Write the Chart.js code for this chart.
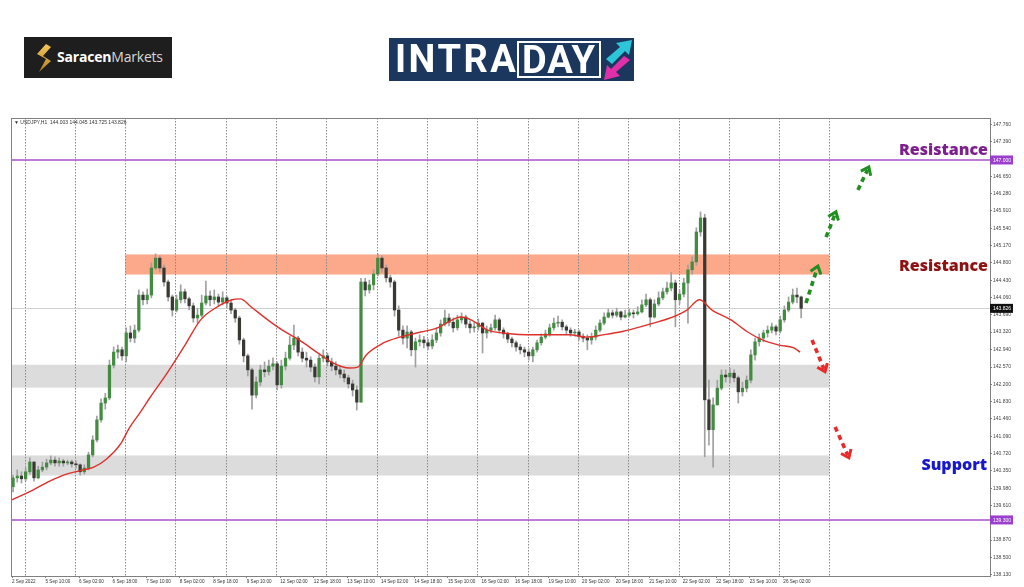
<!DOCTYPE html>
<html>
<head>
<meta charset="utf-8">
<script src="https://cdn.jsdelivr.net/npm/chart.js@4.4.1/dist/chart.umd.min.js"></script>
<style>
  html, body { margin: 0; padding: 0; background: #fff; }
  #wrap { position: relative; width: 1024px; height: 587px; overflow: hidden; }
  #c { position: absolute; left: 0; top: 0; }
  .saracen { position: absolute; left: 24px; top: 37px; width: 148px; height: 41px; background: #1e1e1e; }
  .saracen svg { position: absolute; left: 11px; top: 7px; }
  .saracen .name { position: absolute; left: 33px; top: 10px; font: 14px 'Open Sans', sans-serif; color: #d8d8d8; white-space: nowrap; letter-spacing: -0.2px; }
  .saracen .name b { color: #fff; font-weight: 700; }
  .intraday { position: absolute; left: 389px; top: 38px; width: 245px; height: 43px; background: #1c375e; }
  .intraday .intra { position: absolute; left: 6px; top: 1px; font: 700 38px 'Roboto', sans-serif; color: #fff; letter-spacing: 2.5px; line-height: 41px; }
  .intraday .day { position: absolute; left: 128px; top: 3px; width: 80px; height: 33px; border: 2.5px solid #fff; font: 700 38px 'Roboto', sans-serif; color: #fff; line-height: 35px; text-align: center; letter-spacing: 1px; }
  .intraday svg { position: absolute; left: 214px; top: 2px; }
</style>
</head>
<body>
<div id="wrap">
  <canvas id="c" width="1024" height="587"></canvas>
  <div class="saracen">
    <svg width="18" height="28" viewBox="0 0 18 28">
      <defs><linearGradient id="gold" x1="0" y1="0" x2="0" y2="1"><stop offset="0" stop-color="#f3c75a"/><stop offset="1" stop-color="#b3801f"/></linearGradient></defs>
      <polygon points="11,0 2,10 11,15 4,28 16,17 8,12 16,3" fill="url(#gold)"/>
    </svg>
    <div class="name"><b>Saracen</b>Markets</div>
  </div>
  <div class="intraday">
    <div class="intra">INTRA</div>
    <div class="day">DAY</div>
    <svg width="30" height="40" viewBox="0 0 30 40">
      <polygon points="3,19 17,7 13,3 29,0 26,15 22,11 9,24" fill="#2cc6d8"/>
      <polygon points="27,20 13,32 17,36 1,40 4,25 8,29 21,16" fill="#e02fa8"/>
    </svg>
  </div>
</div>
<script>
// USDJPY H1 (one candle per 2 hours)
const xLabels = ['2 Sep 2022','5 Sep 10:00','6 Sep 02:00','6 Sep 18:00','7 Sep 10:00','8 Sep 02:00','8 Sep 18:00','9 Sep 10:00','12 Sep 02:00','12 Sep 18:00','13 Sep 10:00','14 Sep 02:00','14 Sep 18:00','15 Sep 10:00','16 Sep 02:00','16 Sep 18:00','19 Sep 10:00','20 Sep 02:00','20 Sep 18:00','21 Sep 10:00','22 Sep 02:00','22 Sep 18:00','23 Sep 10:00','26 Sep 02:00'];
const yTicks = [147.760,147.390,147.020,146.650,146.280,145.910,145.540,145.170,144.800,144.430,144.060,143.690,143.320,142.940,142.570,142.200,141.830,141.460,141.090,140.720,140.350,139.980,139.610,139.240,138.870,138.500,138.130];

const firstOpen = 140.01;
const closes = [
  140.20,140.24,140.18,140.33,140.54,140.20,140.37,140.43,140.52,140.58,
  140.52,140.56,140.52,140.54,140.50,140.48,140.33,140.41,140.69,141.01,
  141.44,141.80,141.91,142.61,142.89,142.94,142.81,143.30,143.19,143.36,
  144.11,144.01,144.11,144.69,144.90,144.69,144.39,144.07,143.79,144.01,
  144.18,144.03,143.88,143.62,143.68,143.94,144.09,144.01,144.07,143.96,
  144.05,143.94,143.79,143.62,143.15,142.81,142.51,141.97,142.25,142.51,
  142.47,142.59,142.64,142.19,142.59,142.76,143.04,143.19,142.89,142.76,
  142.72,142.57,142.36,142.76,142.81,142.68,142.59,142.51,142.42,142.34,
  142.21,142.08,141.82,144.39,144.22,144.33,144.56,144.90,144.69,144.48,
  144.39,143.79,143.36,143.19,143.32,142.94,143.11,143.15,143.09,143.02,
  143.15,143.30,143.49,143.62,143.53,143.41,143.58,143.64,143.49,143.41,
  143.43,143.51,143.30,143.36,143.41,143.58,143.36,143.28,143.17,143.09,
  143.00,142.94,142.89,142.81,142.94,143.09,143.21,143.28,143.41,143.51,
  143.53,143.43,143.36,143.30,143.32,143.23,143.19,143.15,143.21,143.36,
  143.51,143.64,143.73,143.68,143.75,143.64,143.68,143.73,143.71,143.75,
  143.90,144.01,143.64,143.92,144.05,144.18,144.26,144.37,144.01,144.13,
  144.37,144.65,144.82,145.46,145.76,141.87,141.23,141.76,142.12,142.40,
  142.36,142.44,142.34,142.04,142.12,142.29,142.83,143.11,143.19,143.30,
  143.36,143.43,143.34,143.58,143.79,143.96,144.11,144.07,143.826
];
const highs = [
  140.26,140.37,140.33,140.41,140.63,140.54,140.45,140.54,140.60,140.67,
  140.65,140.63,140.60,140.58,140.58,140.56,140.50,140.48,140.75,141.10,
  141.52,141.89,142.01,142.72,143.00,143.04,143.00,143.41,143.45,143.47,
  144.22,144.18,144.24,144.80,144.99,144.95,144.75,144.43,144.11,144.11,
  144.33,144.24,144.07,143.94,143.83,144.11,144.41,144.20,144.22,144.13,
  144.18,144.09,144.01,143.83,143.66,143.19,142.85,142.55,142.36,142.61,
  142.68,142.72,142.77,142.68,142.72,142.89,143.23,143.47,143.23,142.98,
  142.89,142.79,142.64,142.83,142.94,142.87,142.76,142.68,142.59,142.51,
  142.40,142.29,142.17,144.47,144.47,144.43,144.65,144.99,144.95,144.75,
  144.54,144.43,143.88,143.45,143.45,143.36,143.19,143.26,143.23,143.17,
  143.26,143.41,143.58,143.79,143.71,143.62,143.68,143.73,143.68,143.56,
  143.53,143.60,143.53,143.45,143.49,143.68,143.62,143.41,143.32,143.21,
  143.13,143.06,143.00,142.96,143.00,143.15,143.28,143.36,143.49,143.62,
  143.66,143.58,143.47,143.41,143.38,143.36,143.28,143.26,143.30,143.45,
  143.58,143.73,143.81,143.79,143.83,143.77,143.79,143.81,143.79,143.86,
  144.01,144.13,144.05,144.01,144.18,144.26,144.39,144.60,144.43,144.22,
  144.47,144.75,144.93,145.55,145.89,145.84,142.29,141.91,142.29,142.51,
  142.51,142.55,142.51,142.38,142.25,142.38,142.94,143.19,143.28,143.36,
  143.45,143.51,143.47,143.66,143.88,144.07,144.24,144.26,144.09
];
const lows = [
  139.90,140.11,140.09,140.13,140.28,140.13,140.18,140.33,140.37,140.48,
  140.45,140.45,140.45,140.48,140.43,140.41,140.26,140.28,140.37,140.65,
  140.97,141.39,141.67,141.87,142.55,142.76,142.72,142.68,143.11,143.09,
  143.32,143.90,143.92,144.05,144.65,144.60,144.30,143.98,143.66,143.75,
  143.94,143.94,143.79,143.53,143.51,143.64,143.90,143.88,143.92,143.88,
  143.90,143.83,143.71,143.53,143.06,142.68,142.38,141.67,141.91,142.17,
  142.36,142.40,142.51,142.08,142.12,142.51,142.72,142.94,142.81,142.68,
  142.57,142.47,142.25,142.21,142.68,142.59,142.49,142.40,142.34,142.25,
  142.12,141.95,141.65,141.82,144.09,144.15,144.22,144.52,144.60,144.39,
  144.28,143.66,143.23,143.06,142.98,142.81,142.57,143.02,142.98,142.94,
  142.96,143.09,143.23,143.45,143.45,143.32,143.36,143.51,143.41,143.30,
  143.32,143.36,142.87,143.19,143.30,143.36,143.30,143.19,143.09,143.00,
  142.91,142.85,142.79,142.72,142.68,142.89,143.04,143.17,143.23,143.36,
  143.43,143.36,143.26,143.23,143.23,143.15,143.11,142.94,143.06,143.15,
  143.32,143.47,143.62,143.62,143.64,143.58,143.62,143.64,143.62,143.68,
  143.73,143.86,143.43,143.62,143.88,144.01,144.13,144.20,143.43,143.92,
  144.07,143.51,144.56,144.75,145.37,140.65,140.90,140.43,141.76,142.08,
  142.25,142.23,142.25,141.80,141.95,142.04,142.23,142.72,143.02,143.11,
  143.21,143.30,143.26,143.30,143.53,143.75,143.92,143.94,143.62
];
// red moving average, traced at a few hour positions
const maHours = [0,10,18,26,32,39,45,52,56,61,66,74,82,90,98,105,109,114,122,129,137,146,153,161,165,169,177,185,195,203,210,214,219,227,234,250,266,274,282,290,298,306,314,322,328,334,343,351,358,366,373,376];
const maValues = [139.73,139.94,140.13,140.28,140.35,140.43,140.60,140.94,141.27,141.59,141.93,142.44,143.00,143.58,143.86,144.01,144.03,143.86,143.58,143.36,143.15,142.87,142.66,142.55,142.57,142.83,143.08,143.21,143.32,143.41,143.58,143.64,143.58,143.36,143.30,143.26,143.26,143.21,143.26,143.32,143.41,143.51,143.62,143.79,144.01,143.79,143.58,143.32,143.15,143.04,142.98,142.89];

// zones [low, high] and their start hour (all end at hour 390)
const zoneLevels = [[144.55, 144.98], [142.13, 142.62], [140.25, 140.68]];
const zoneStart = [54, -1, -1];
const zoneEnd = 390;
const levelLines = [147.000, 139.300];
const lastPrice = 143.826;
const gridHours = [6,30,54,78,102,126,150,174,198,222,246,270,294,318,342,366,390];
// dashed arrows [fromHour, fromPrice, toHour, toPrice]
const upArrows = [[378.8,143.94,384.5,144.73],[388.4,145.35,393.1,145.89],[403.6,146.36,408.8,146.85]];
const downArrows = [[381.7,143.15,387.9,142.47],[392.7,141.29,399.3,140.63]];

const opens = [firstOpen].concat(closes.slice(0, -1));
const barHour = closes.map((c, i) => i * 2 + 0.5);

const wicks = closes.map((c, i) => ({x: barHour[i], y: [lows[i], highs[i]]}));
const bodies = closes.map((c, i) => ({x: barHour[i], y: [opens[i], c]}));
const bodyColors = closes.map((c, i) => c >= opens[i] ? '#428c42' : '#3a3833');
const ma = maHours.map((h, i) => ({x: h, y: maValues[i]}));

const FONT = 'Liberation Sans, Arial, sans-serif';

const mt4 = {
  id: 'mt4',
  beforeDatasetsDraw(chart) {
    const {ctx, chartArea: a, scales: {x, y}} = chart;
    ctx.save();
    ctx.beginPath();
    ctx.rect(a.left, a.top, a.right - a.left, a.bottom - a.top);
    ctx.clip();
    const zoneColors = ['#fba98a', '#dcdcdc', '#dcdcdc'];
    zoneLevels.forEach((z, i) => {
      const x0 = Math.max(a.left, x.getPixelForValue(zoneStart[i]));
      const x1 = x.getPixelForValue(zoneEnd);
      const y0 = y.getPixelForValue(z[1]), y1 = y.getPixelForValue(z[0]);
      ctx.fillStyle = zoneColors[i];
      ctx.fillRect(x0, y0, x1 - x0, y1 - y0);
    });
    ctx.strokeStyle = '#8a8a8a';
    ctx.lineWidth = 1;
    ctx.setLineDash([1.5, 1.5]);
    gridHours.forEach(h => {
      const px = Math.round(x.getPixelForValue(h)) + 0.5;
      ctx.beginPath(); ctx.moveTo(px, a.top); ctx.lineTo(px, a.bottom); ctx.stroke();
    });
    ctx.setLineDash([]);
    ctx.strokeStyle = '#cfcfcf';
    const lp = Math.round(y.getPixelForValue(lastPrice)) + 0.5;
    ctx.beginPath(); ctx.moveTo(a.left, lp); ctx.lineTo(a.right, lp); ctx.stroke();
    ctx.strokeStyle = '#a552cc';
    ctx.lineWidth = 1.6;
    levelLines.forEach(v => {
      const py = y.getPixelForValue(v);
      ctx.beginPath(); ctx.moveTo(a.left, py); ctx.lineTo(a.right, py); ctx.stroke();
    });
    ctx.restore();
  },
  afterDatasetsDraw(chart) {
    const {ctx, chartArea: a, scales: {x, y}} = chart;
    ctx.save();
    function arrow(seg, color) {
      const x0 = x.getPixelForValue(seg[0]), y0 = y.getPixelForValue(seg[1]);
      const x1 = x.getPixelForValue(seg[2]), y1 = y.getPixelForValue(seg[3]);
      const ang = Math.atan2(y1 - y0, x1 - x0);
      ctx.strokeStyle = color;
      ctx.lineWidth = 3.6;
      ctx.setLineDash([5, 4]);
      ctx.beginPath();
      ctx.moveTo(x0, y0);
      ctx.lineTo(x1 - 3 * Math.cos(ang), y1 - 3 * Math.sin(ang));
      ctx.stroke();
      ctx.setLineDash([]);
      ctx.lineWidth = 3;
      ctx.lineJoin = 'miter';
      ctx.beginPath();
      ctx.moveTo(x1 - 9 * Math.cos(ang - 0.65), y1 - 9 * Math.sin(ang - 0.65));
      ctx.lineTo(x1, y1);
      ctx.lineTo(x1 - 9 * Math.cos(ang + 0.65), y1 - 9 * Math.sin(ang + 0.65));
      ctx.stroke();
    }
    upArrows.forEach(s => arrow(s, '#1f8f1f'));
    downArrows.forEach(s => arrow(s, '#e82a2a'));

    ctx.textAlign = 'right';
    ctx.textBaseline = 'middle';
    ctx.font = '800 16px "Open Sans", sans-serif';
    ctx.fillStyle = '#7d1f8e';
    ctx.fillText('Resistance', a.right - 2, y.getPixelForValue(147.21));
    ctx.fillStyle = '#8e1212';
    ctx.fillText('Resistance', a.right - 2, y.getPixelForValue(144.73));
    ctx.fillStyle = '#1717cc';
    ctx.fillText('Support', a.right - 3, y.getPixelForValue(140.47));

    ctx.textAlign = 'left';
    ctx.font = '5px ' + FONT;
    ctx.fillStyle = '#333';
    ctx.fillText('\u25BC USDJPY,H1  144.003 144.045 143.725 143.826', a.left + 3, a.top + 5);

    // frame
    ctx.strokeStyle = '#808080';
    ctx.lineWidth = 1;
    ctx.strokeRect(a.left + 0.5, a.top + 0.5, a.right - a.left, a.bottom - a.top);

    // price tags on the axis
    function tag(v, bg) {
      const py = y.getPixelForValue(v);
      ctx.fillStyle = bg;
      ctx.fillRect(a.right, py - 4.5, 23, 9);
      ctx.fillStyle = '#fff';
      ctx.font = '5px ' + FONT;
      ctx.textAlign = 'left';
      ctx.fillText(v.toFixed(3), a.right + 3, py + 0.5);
    }
    levelLines.forEach(v => tag(v, '#9b3fcf'));
    tag(lastPrice, '#111');
    ctx.restore();
  }
};

new Chart(document.getElementById('c'), {
  type: 'bar',
  data: {
    datasets: [
      {
        type: 'line',
        data: ma,
        borderColor: '#e0302a',
        borderWidth: 1.4,
        pointRadius: 0,
        cubicInterpolationMode: 'monotone',
        order: 0
      },
      {
        data: bodies,
        backgroundColor: bodyColors,
        barThickness: 2.6,
        grouped: false,
        order: 1
      },
      {
        data: wicks,
        backgroundColor: '#a0a0a0',
        barThickness: 1,
        grouped: false,
        order: 2
      }
    ]
  },
  options: {
    responsive: false,
    animation: false,
    layout: { padding: { left: 11, top: 118, right: 0, bottom: 0 } },
    plugins: { legend: { display: false }, tooltip: { enabled: false } },
    scales: {
      x: {
        type: 'linear',
        offset: false,
        min: -0.48,
        max: 466.6,
        afterBuildTicks: s => { s.ticks = xLabels.map((l, i) => ({value: i * 16})); },
        afterFit: s => { s.height = 11; },
        ticks: {
          callback: v => xLabels[v / 16],
          align: 'start',
          autoSkip: false,
          maxRotation: 0,
          padding: 1,
          color: '#333',
          font: { size: 4.6, family: FONT }
        },
        grid: { offset: false, drawOnChartArea: false, tickLength: 2, color: '#808080' },
        border: { color: '#808080' }
      },
      y: {
        position: 'right',
        min: 138.101,
        max: 147.898,
        afterBuildTicks: s => { s.ticks = yTicks.map(v => ({value: v})); },
        afterFit: s => { s.width = 34; },
        ticks: {
          callback: v => v.toFixed(3),
          padding: 1,
          color: '#444',
          font: { size: 5, family: FONT }
        },
        grid: { drawOnChartArea: false, tickLength: 2, color: '#808080' },
        border: { color: '#808080' }
      }
    }
  },
  plugins: [mt4]
});
</script>
</body>
</html>
